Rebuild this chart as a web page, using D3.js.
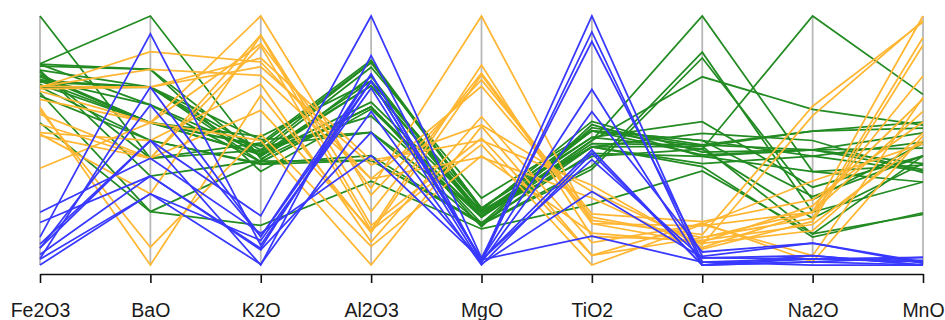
<!DOCTYPE html>
<html>
<head>
<meta charset="utf-8">
<script src="https://cdn.jsdelivr.net/npm/d3@7"></script>
<style>
  html, body { margin: 0; padding: 0; background: #ffffff; }
  svg { display: block; }
</style>
</head>
<body>
<svg id="chart" width="945" height="320"></svg>
<script>
// Axis order (as in the chart)
const variables = ["Fe2O3", "BaO", "K2O", "Al2O3", "MgO", "TiO2", "CaO", "Na2O", "MnO"];

// Cluster of each sample: 1 = green, 2 = orange, 3 = blue
const cluster = [1,1,1,1,1,1,1,1,1,1,1,1,1,1,1,1,1,1,1,1,1,
                 2,2,2,2,2,2,2,2,2,2,2,2,2,2,
                 3,3,3,3,3,3,3,3,3,3];

const Fe2O3 = [9.52,7.33,7.64,7.29,7.24,7.45,7.05,7.42,7.15,6.87,5.83,6.76,7.07,7.79,7.86,7.65,7.85,7.87,7.58,7.50,7.28,
               7.00,7.08,7.09,6.37,7.06,6.26,4.26,5.78,5.49,6.92,6.13,6.64,5.39,5.44,
               1.28,2.39,1.50,1.88,1.51,1.12,1.14,0.92,2.74,1.64];
const BaO   = [0.015,0.018,0.014,0.019,0.019,0.017,0.019,0.017,0.017,0.012,0.012,0.016,0.016,0.020,0.020,0.019,0.018,0.023,0.015,0.017,0.017,
               0.019,0.020,0.019,0.009,0.021,0.010,0.017,0.015,0.016,0.017,0.015,0.017,0.015,0.013,
               0.014,0.014,0.018,0.022,0.016,0.013,0.019,0.013,0.015,0.016];
const K2O   = [3.20,3.05,3.07,3.05,3.12,3.26,3.20,3.37,3.25,3.06,2.25,3.02,3.03,3.13,2.93,3.33,3.17,3.09,3.29,3.14,3.15,
               4.25,4.14,4.36,3.89,4.31,3.40,3.32,3.70,4.03,4.54,4.65,4.89,4.51,4.64,
               1.96,1.94,2.11,2.00,2.37,2.06,2.11,1.76,2.15,1.75];
const Al2O3 = [18.8,16.9,18.2,16.9,17.8,18.8,16.5,18.0,15.8,14.6,13.7,14.6,14.8,17.1,16.8,15.8,18.6,16.9,18.9,18.0,17.8,
               14.4,13.8,14.6,11.5,13.8,10.9,10.1,11.6,11.1,13.4,12.4,13.1,11.6,11.8,
               18.3,15.8,18.0,18.0,20.8,17.7,18.3,16.7,14.8,19.1];
const MgO   = [2.00,1.65,1.82,1.56,1.83,2.06,1.81,2.06,1.62,1.67,1.50,1.63,1.62,1.99,1.86,1.94,2.33,1.83,2.05,1.94,1.92,
               4.30,3.43,3.88,5.64,5.34,3.47,4.26,5.91,4.52,7.23,5.69,5.51,3.77,3.94,
               0.67,0.63,0.67,0.68,0.72,0.56,0.67,0.53,0.67,0.60];
const TiO2  = [1.01,0.99,0.98,1.00,0.93,0.98,0.95,0.96,0.93,0.91,0.75,0.87,0.86,0.93,0.94,0.96,0.98,0.95,0.98,0.93,0.90,
               0.79,0.77,0.81,0.69,0.71,0.66,0.59,0.65,0.63,0.69,0.70,0.72,0.56,0.59,
               0.65,1.29,0.92,1.11,1.26,0.79,0.89,0.91,1.34,1.04];
const CaO   = [0.79,0.84,0.77,0.76,0.92,0.87,1.73,1.00,0.71,0.76,0.66,1.48,1.44,0.83,0.84,0.81,0.87,1.31,0.83,0.69,0.81,
               0.15,0.12,0.13,0.16,0.20,0.17,0.20,0.18,0.29,0.28,0.22,0.31,0.29,0.30,
               0.03,0.01,0.01,0.01,0.07,0.06,0.06,0.01,0.03,0.10];
const Na2O  = [0.40,0.40,0.40,0.40,0.43,0.25,0.33,0.28,0.38,0.33,0.13,0.20,0.24,0.46,0.46,0.83,0.38,0.53,0.13,0.12,0.18,
               0.51,0.17,0.20,0.14,0.20,0.22,0.18,0.16,0.30,0.20,0.54,0.24,0.06,0.04,
               0.03,0.04,0.06,0.04,0.10,0.06,0.05,0.05,0.05,0.10];
const MnO   = [0.077,0.067,0.087,0.063,0.061,0.072,0.066,0.072,0.062,0.055,0.034,0.055,0.080,0.090,0.094,0.112,0.081,0.092,0.072,0.035,0.067,
               0.160,0.144,0.124,0.087,0.101,0.109,0.149,0.082,0.080,0.163,0.159,0.094,0.110,0.085,
               0.001,0.001,0.001,0.006,0.002,0.001,0.006,0.004,0.003,0.003];

const clusterColors = ["#228B22", "#FFB733", "#3838FF"];

// Build table for the library
const columns = { Fe2O3, BaO, K2O, Al2O3, MgO, TiO2, CaO, Na2O, MnO };
const rows = cluster.map((c, i) => {
  const r = { cluster: c };
  variables.forEach(v => { r[v] = columns[v][i]; });
  return r;
});

const svg = d3.select("#chart");
const plotTop = 16, plotBottom = 265, axisY = 274;

const x = d3.scalePoint().domain(variables).range([40, 923]);
const y = {};
variables.forEach(v => {
  y[v] = d3.scaleLinear().domain(d3.extent(columns[v])).range([plotBottom, plotTop]);
});

// vertical grey axes
svg.append("g")
  .selectAll("line")
  .data(variables)
  .join("line")
  .attr("x1", d => x(d)).attr("x2", d => x(d))
  .attr("y1", plotTop).attr("y2", plotBottom)
  .attr("stroke", "#b8b8b8")
  .attr("stroke-width", 1.8);

// profile lines
const line = d3.line();
svg.append("g")
  .attr("fill", "none")
  .selectAll("path")
  .data(rows)
  .join("path")
  .attr("d", r => line(variables.map(v => [x(v), y[v](r[v])])))
  .attr("stroke", r => clusterColors[r.cluster - 1])
  .attr("stroke-width", 1.75)
  .attr("stroke-linejoin", "miter");

// bottom axis
const axis = d3.axisBottom(x).tickSize(9).tickSizeOuter(0);
const gAxis = svg.append("g")
  .attr("transform", `translate(0,${axisY})`)
  .call(axis);
gAxis.select(".domain").attr("stroke", "#111").attr("stroke-width", 1.6);
gAxis.selectAll(".tick line").attr("stroke", "#111").attr("stroke-width", 1.6);
gAxis.selectAll(".tick text")
  .attr("y", 43).attr("dy", 0)
  .attr("fill", "#1a1a1a")
  .style("font-family", "'Liberation Sans', Arial, sans-serif")
  .style("font-size", "19.5px");
</script>
</body>
</html>
